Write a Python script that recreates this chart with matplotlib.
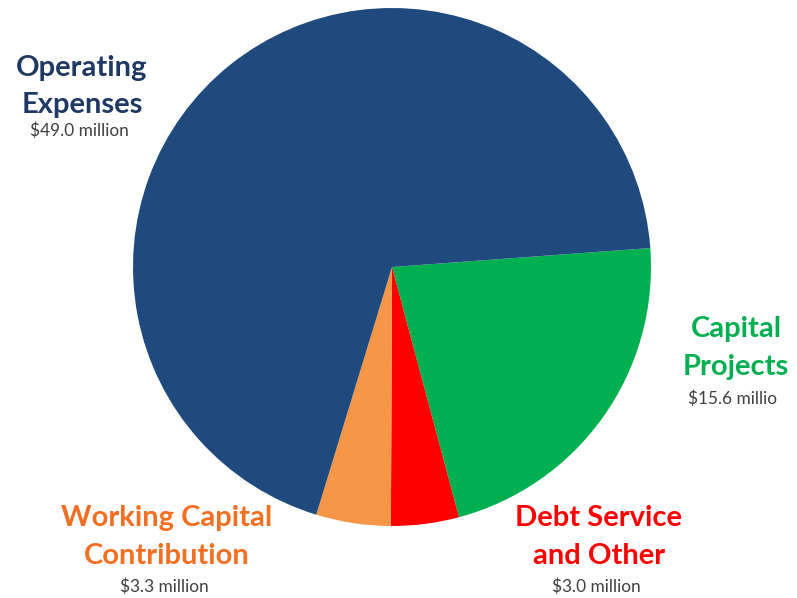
import matplotlib.pyplot as plt

# budget uses, in millions of dollars
labels = ["Capital\nProjects", "Debt Service\nand Other", "Working Capital\nContribution", "Operating\nExpenses"]
values = [15.6, 3.0, 3.3, 49.0]
value_text = ["$15.6 millio", "$3.0 million", "$3.3 million", "$49.0 million"]
slice_colors = ["#00B050", "#FF0000", "#F79646", "#1F4A7E"]
label_colors = ["#00B050", "#FF0000", "#F36F21", "#1F3864"]

# label anchors: centre x, baseline of first line, gap to value line (pixels from top)
label_pos = [(736, 337, 30), (599, 526, 28), (167, 526, 28), (82, 76, 23)]

W, H = 797, 598
fig = plt.figure(figsize=(W / 100, H / 100), dpi=100)
ax = fig.add_axes([0, 0, 1, 1])

ax.pie(values, colors=slice_colors, startangle=4.2, counterclock=False,
       center=(392, H - 267), radius=259,
       wedgeprops=dict(linewidth=0))

ax.set_xlim(0, W)
ax.set_ylim(0, H)
ax.set_aspect("equal")
ax.axis("off")

for lab, vt, col, (x, y, gap) in zip(labels, value_text, label_colors, label_pos):
    lines = lab.split("\n")
    for i, line in enumerate(lines):
        ax.text(x, H - (y + 37.5 * i), line, ha="center", va="baseline",
                fontsize=21, fontweight="bold", color=col, family="Lato")
    ax.text(x - 3, H - (y + 37.5 * (len(lines) - 1) + gap), vt, ha="center",
            va="baseline", fontsize=12.4, color="#404040", family="Lato")

fig.savefig("out.png", dpi=100)
